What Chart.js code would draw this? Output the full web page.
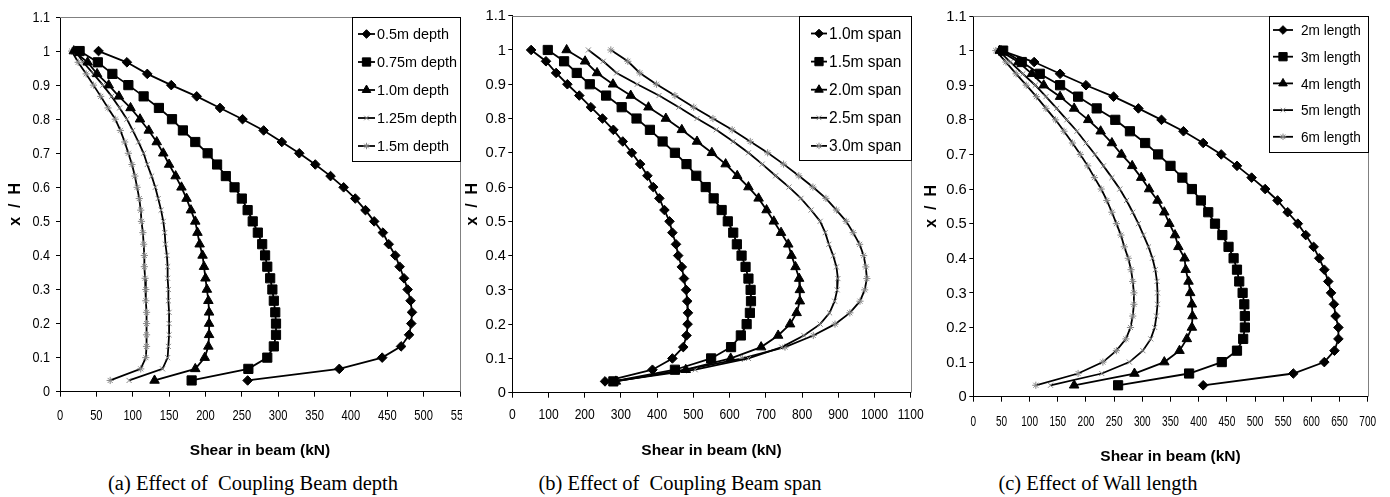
<!DOCTYPE html>
<html>
<head>
<meta charset="utf-8">
<title>Shear in coupling beam along wall height</title>
<script src="https://cdn.jsdelivr.net/npm/chart.js@4.4.1/dist/chart.umd.min.js"></script>
<style>
  body { margin: 0; background: #fff; }
  #page { position: relative; width: 1390px; height: 497px; overflow: hidden; background: #fff; }
  canvas { position: absolute; top: 0; }
  #chartDepth { left: 0; }
  #chartSpan { left: 462px; background: #fff; }
  #chartWall { left: 922px; }
  .caption {
    position: absolute; top: 471px; width: 420px; text-align: center; white-space: pre;
    font: 20.5px 'Liberation Serif', 'Times New Roman', serif; line-height: 24px; color: #000;
  }
</style>
</head>
<body>
<div id="page">
  <canvas id="chartDepth" width="490" height="470"></canvas>
  <canvas id="chartSpan" width="463" height="470"></canvas>
  <canvas id="chartWall" width="468" height="470"></canvas>
  <div class="caption" style="left:43px">(a) Effect of  Coupling Beam depth</div>
  <div class="caption" style="left:470px">(b) Effect of  Coupling Beam span</div>
  <div class="caption" style="left:888px">(c) Effect of Wall length</div>
</div>
<script>
// x/H levels, top of wall first
const xH = [1.000, 0.967, 0.933, 0.900, 0.867, 0.833, 0.800, 0.767, 0.733, 0.700,
            0.667, 0.633, 0.600, 0.567, 0.533, 0.500, 0.467, 0.433, 0.400, 0.367,
            0.333, 0.300, 0.267, 0.233, 0.200, 0.167, 0.133, 0.100, 0.067, 0.033];

const yTicks = [0, 0.1, 0.2, 0.3, 0.4, 0.5, 0.6, 0.7, 0.8, 0.9, 1, 1.1];

// (a) coupling beam depth, shear in kN
const depthLabels = ['0.5m depth', '0.75m depth', '1.0m depth', '1.25m depth', '1.5m depth'];
const depth050 = [53, 92, 120, 153, 188, 220, 251, 280, 305, 329, 351, 372, 390, 406, 420,
                  432, 444, 452, 461, 467, 473, 478, 482, 484, 483, 480, 469, 443, 384, 258];
const depth075 = [27, 52, 72, 94, 115, 136, 154, 169, 186, 203, 216, 228, 240, 250, 258,
                  265, 272, 278, 282, 285, 289, 292, 294, 296, 297, 297, 294, 285, 259, 181];
const depth100 = [19, 38, 51, 67, 81, 97, 110, 122, 133, 142, 150, 159, 167, 174, 180,
                  186, 189, 192, 196, 198, 200, 202, 204, 205, 205, 205, 204, 199, 186, 130];
const depth125 = [21, 32, 46, 59, 71, 82, 92, 100, 108, 115, 120, 126, 131, 135, 139,
                  142, 144, 145, 147, 148, 148, 149, 149, 150, 150, 150, 149, 148, 141, 95];
const depth150 = [16, 25, 36, 46, 56, 66, 76, 83, 89, 94, 99, 103, 106, 109, 111,
                  112, 114, 115, 116, 116, 117, 118, 118, 119, 119, 119, 119, 118, 111, 69];
const xTicksDepth = [0, 50, 100, 150, 200, 250, 300, 350, 400, 450, 500, 550];

// (b) coupling beam span
const spanLabels = ['1.0m span', '1.5m span', '2.0m span', '2.5m span', '3.0m span'];
const span10 = [52, 93, 121, 152, 185, 217, 249, 279, 305, 330, 353, 373, 389, 406, 420,
                434, 442, 452, 458, 468, 474, 480, 483, 485, 484, 481, 472, 442, 387, 256];
const span15 = [98, 143, 178, 214, 259, 302, 343, 380, 415, 449, 481, 508, 534, 556, 578,
                595, 610, 620, 633, 644, 652, 658, 659, 656, 647, 631, 604, 549, 449, 279];
const span20 = [150, 201, 234, 278, 327, 376, 424, 468, 510, 551, 589, 621, 652, 680, 702,
                722, 742, 762, 771, 782, 792, 794, 794, 785, 767, 734, 687, 603, 479, 286];
const span25 = [210, 251, 288, 345, 405, 460, 510, 563, 610, 652, 690, 727, 764, 797, 825,
                850, 864, 874, 886, 895, 899, 897, 890, 876, 850, 805, 744, 652, 505, 279];
const span30 = [272, 319, 352, 398, 449, 501, 554, 607, 657, 705, 749, 791, 830, 866, 895,
                922, 941, 959, 970, 976, 979, 973, 960, 932, 891, 831, 753, 635, 481, 280];
const xTicksSpan = [0, 100, 200, 300, 400, 500, 600, 700, 800, 900, 1000, 1100];

// (c) wall length
const wallLabels = ['2m length', '3m length', '4m length', '5m length', '6m length'];
const wall2 = [50, 108, 154, 200, 249, 293, 334, 373, 408, 440, 468, 494, 518, 540, 558,
               576, 590, 604, 614, 623, 630, 635, 640, 643, 648, 648, 641, 623, 568, 408];
const wall3 = [53, 86, 118, 154, 186, 219, 252, 278, 305, 328, 350, 371, 388, 404, 417,
               429, 442, 453, 462, 468, 472, 478, 481, 482, 482, 479, 468, 441, 383, 257];
const wall4 = [47, 80, 104, 125, 154, 179, 204, 226, 246, 263, 282, 298, 312, 327, 339,
               348, 358, 364, 375, 377, 382, 385, 388, 389, 388, 379, 366, 339, 286, 179];
const wall5 = [45, 66, 88, 110, 129, 148, 166, 184, 200, 216, 231, 246, 260, 272, 283,
               293, 302, 311, 318, 323, 326, 327, 327, 325, 322, 315, 301, 277, 228, 137];
const wall6 = [40, 58, 76, 94, 112, 129, 146, 161, 176, 190, 203, 215, 227, 237, 246,
               254, 262, 268, 275, 280, 283, 285, 285, 283, 279, 271, 254, 230, 186, 111];
const xTicksWall = [0, 50, 100, 150, 200, 250, 300, 350, 400, 450, 500, 550, 600, 650, 700];

const SANS = "'Liberation Sans', Arial, sans-serif";
Chart.defaults.font.family = SANS;
Chart.defaults.color = '#000';

// same marker set in every panel, in series order
const MARKERS = [
  { style: 'rectRot', radius: 4.8, fill: '#000', stroke: '#000', width: 1 },
  { style: 'rect', radius: 6.5, fill: '#000', stroke: '#000', width: 1 },
  { style: 'triangle', radius: 5.5, fill: '#000', stroke: '#000', width: 1 },
  { style: 'crossRot', radius: 3.6, fill: '#888', stroke: '#888', width: 1 },
  { style: 'star', radius: 3.6, fill: '#888', stroke: '#888', width: 1 }
];

// grey frame on top and right of the plot area
const plotFrame = {
  id: 'plotFrame',
  beforeDatasetsDraw(chart) {
    const { ctx, chartArea: a } = chart;
    ctx.save();
    ctx.strokeStyle = '#808080';
    ctx.lineWidth = 1;
    ctx.beginPath();
    ctx.moveTo(a.left, Math.round(a.top) + 0.5);
    ctx.lineTo(Math.round(a.right) + 0.5, Math.round(a.top) + 0.5);
    ctx.lineTo(Math.round(a.right) + 0.5, a.bottom);
    ctx.stroke();
    ctx.restore();
  }
};

// tick labels of the original are horizontally condensed: draw them
// at the scale positions, squeezed with fillText's maxWidth
const squeezedTicks = {
  id: 'squeezedTicks',
  afterDraw(chart, args, opts) {
    const { ctx, scales } = chart;
    ctx.save();
    ctx.fillStyle = '#000';
    ctx.textBaseline = 'middle';

    ctx.font = opts.xSize + 'px ' + SANS;
    ctx.textAlign = 'center';
    scales.x.ticks.forEach(t => {
      const label = String(t.value);
      const w = ctx.measureText(label).width * opts.xSqueeze;
      ctx.fillText(label, scales.x.getPixelForValue(t.value), opts.xCenter, w);
    });

    ctx.font = opts.ySize + 'px ' + SANS;
    ctx.textAlign = 'right';
    scales.y.ticks.forEach(t => {
      const label = String(t.value);
      const w = ctx.measureText(label).width * opts.ySqueeze;
      ctx.fillText(label, opts.yRight, scales.y.getPixelForValue(t.value) + 0.5, w);
    });
    ctx.restore();
  }
};

// legend in a bordered box inside the top right corner
const boxLegend = {
  id: 'boxLegend',
  afterDatasetsDraw(chart, args, opts) {
    const { ctx, chartArea } = chart;
    const left = Math.round(chartArea.right - opts.width);
    const top = Math.round(chartArea.top);
    ctx.save();
    ctx.fillStyle = '#fff';
    ctx.fillRect(left, top, opts.width, opts.height);
    ctx.strokeStyle = '#000';
    ctx.lineWidth = 1;
    ctx.strokeRect(left + 0.5, top + 0.5, opts.width, opts.height);
    ctx.font = opts.font;
    ctx.textBaseline = 'middle';
    chart.data.datasets.forEach((ds, i) => {
      const y = top + opts.firstRow + i * opts.rowGap;
      ctx.strokeStyle = '#000';
      ctx.lineWidth = ds.borderWidth;
      ctx.beginPath();
      ctx.moveTo(left + opts.lineFrom, y);
      ctx.lineTo(left + opts.lineTo, y);
      ctx.stroke();
      ctx.fillStyle = ds.pointBackgroundColor;
      ctx.strokeStyle = ds.pointBorderColor;
      ctx.lineWidth = ds.pointBorderWidth;
      Chart.helpers.drawPoint(ctx, {
        pointStyle: ds.pointStyle, radius: ds.pointRadius * 0.9,
        borderWidth: ds.pointBorderWidth, rotation: 0
      }, left + (opts.lineFrom + opts.lineTo) / 2, y);
      ctx.fillStyle = '#000';
      const w = ctx.measureText(ds.label).width * opts.squeeze;
      ctx.fillText(ds.label, left + opts.textX, y + 1, w);
    });
    ctx.restore();
  }
};

function createPanel(canvasId, cfg) {
  const ctx = document.getElementById(canvasId);
  if (!ctx) return null;

  const datasets = cfg.series.map((values, i) => {
    const m = MARKERS[i];
    return {
      label: cfg.labels[i],
      data: values.map((v, k) => ({ x: v, y: xH[k] })),
      showLine: true,
      borderColor: '#000',
      borderWidth: 1.8,
      pointStyle: m.style,
      pointRadius: m.radius,
      pointBackgroundColor: m.fill,
      pointBorderColor: m.stroke,
      pointBorderWidth: m.width
    };
  });

  const tickGrid = len => ({
    display: true,
    drawOnChartArea: false,
    drawTicks: true,
    tickLength: len,
    color: '#000',
    lineWidth: 1
  });

  return new Chart(ctx, {
    type: 'scatter',
    data: { datasets: datasets },
    options: {
      responsive: false,
      animation: false,
      events: [],
      layout: { padding: cfg.padding },
      plugins: {
        legend: { display: false },
        tooltip: { enabled: false },
        boxLegend: cfg.legend,
        squeezedTicks: cfg.tickLabels
      },
      scales: {
        x: {
          type: 'linear',
          min: 0,
          max: cfg.xTicks[cfg.xTicks.length - 1],
          afterBuildTicks: s => { s.ticks = cfg.xTicks.map(v => ({ value: v })); },
          afterFit: s => { s.height = cfg.xAxisHeight; },
          grid: tickGrid(5),
          border: { display: true, color: '#000', width: 1 },
          ticks: { display: false },
          title: {
            display: true,
            text: 'Shear in beam (kN)',
            color: '#000',
            font: { weight: 'bold', size: 15.5 },
            padding: { top: 0, bottom: cfg.xTitlePad }
          }
        },
        y: {
          type: 'linear',
          min: 0,
          max: 1.1,
          afterBuildTicks: s => { s.ticks = yTicks.map(v => ({ value: v })); },
          afterFit: s => { s.width = cfg.yAxisWidth; },
          grid: tickGrid(4),
          border: { display: true, color: '#000', width: 1 },
          ticks: { display: false },
          title: {
            display: true,
            text: 'x  /  H',
            color: '#000',
            font: { weight: 'bold', size: 16 },
            padding: { top: cfg.yTitlePad, bottom: 0 }
          }
        }
      }
    },
    plugins: [plotFrame, boxLegend, squeezedTicks]
  });
}

createPanel('chartDepth', {
  labels: depthLabels,
  series: [depth050, depth075, depth100, depth125, depth150],
  xTicks: xTicksDepth,
  padding: { left: 0, top: 17, right: 30, bottom: 0 },
  yAxisWidth: 60,
  xAxisHeight: 78.3,
  xTitlePad: 9.7,
  yTitlePad: 5.9,
  tickLabels: { xSize: 15.5, xSqueeze: 0.72, xCenter: 415.5, ySize: 15, ySqueeze: 0.84, yRight: 50 },
  legend: { width: 108, height: 144, firstRow: 17, rowGap: 28, lineFrom: 6, lineTo: 23,
            textX: 25, font: '15.5px ' + SANS, squeeze: 0.93 }
});

createPanel('chartSpan', {
  labels: spanLabels,
  series: [span10, span15, span20, span25, span30],
  xTicks: xTicksSpan,
  padding: { left: 0, top: 15.7, right: 14.3, bottom: 0 },
  yAxisWidth: 50.3,
  xAxisHeight: 77.3,
  xTitlePad: 10.2,
  yTitlePad: 0.9,
  tickLabels: { xSize: 15.5, xSqueeze: 0.78, xCenter: 415, ySize: 15, ySqueeze: 0.98, yRight: 44 },
  legend: { width: 112, height: 144, firstRow: 17.5, rowGap: 28.1, lineFrom: 12, lineTo: 28,
            textX: 30, font: '16px ' + SANS, squeeze: 0.97 }
});

createPanel('chartWall', {
  labels: wallLabels,
  series: [wall2, wall3, wall4, wall5, wall6],
  xTicks: xTicksWall,
  padding: { left: 0, top: 16, right: 22.3, bottom: 0 },
  yAxisWidth: 51.3,
  xAxisHeight: 73.3,
  xTitlePad: 4.2,
  yTitlePad: 0.1,
  tickLabels: { xSize: 15, xSqueeze: 0.67, xCenter: 421.7, ySize: 15, ySqueeze: 0.98, yRight: 44.7 },
  legend: { width: 99, height: 136, firstRow: 14, rowGap: 26.7, lineFrom: 4, lineTo: 24,
            textX: 32, font: '15.5px ' + SANS, squeeze: 0.88 }
});
</script>
</body>
</html>
